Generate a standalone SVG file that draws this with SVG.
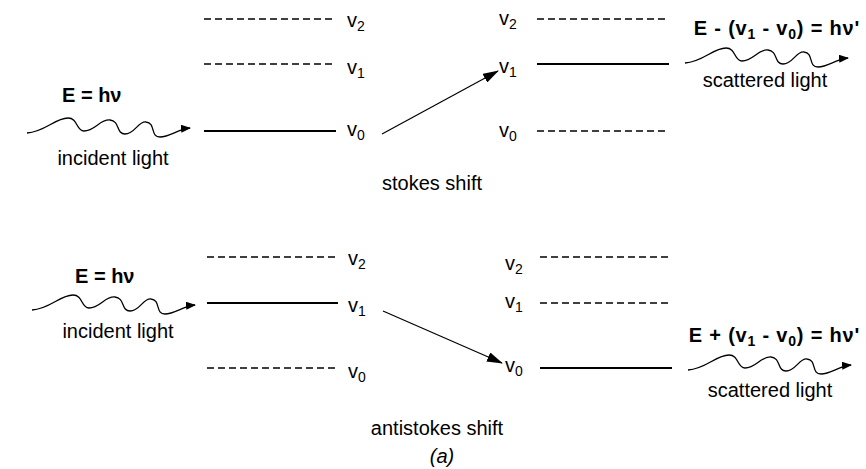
<svg xmlns="http://www.w3.org/2000/svg" width="866" height="469" viewBox="0 0 866 469">
<style>
text{font-family:"Liberation Sans",Arial,sans-serif;font-size:20px;fill:#000}
.b{font-weight:bold}
.f{letter-spacing:0.8px}
.sub{font-size:14px}
.solid{stroke:#000;stroke-width:2;fill:none}
.dash{stroke:#000;stroke-width:1.6;stroke-dasharray:7 4;fill:none}
.arr{stroke:#000;stroke-width:1.2;fill:none;marker-end:url(#ah)}
.wave{stroke:#000;stroke-width:1.3;fill:none;marker-end:url(#wh)}
.c{text-anchor:middle}
</style>
<defs>
<marker id="ah" viewBox="0 0 16 10" refX="15" refY="5" markerWidth="16" markerHeight="10" markerUnits="userSpaceOnUse" orient="auto"><path d="M0,0 L16,5 L0,10 Z" fill="#000"/></marker>
<marker id="wh" viewBox="0 0 10 8" refX="9" refY="4" markerWidth="10" markerHeight="8" markerUnits="userSpaceOnUse" orient="auto"><path d="M0,0 L10,4 L0,8 Z" fill="#000"/></marker>
</defs>

<g id="stokes-incident">
<text class="b" x="62" y="102">E = hν</text>
<path class="wave" transform="translate(27,133)" d="M0,0 C18,-1 28,-15 41,-15 C51,-15 49,-2 57,-2 C68,-2 73,-14 83,-13 C93,-12 89,1 98,1 C108,1 111,-12 119,-11 C129,-10 123,4 133,4 C143,4 151,-4 163,-5"/>
<text class="c" x="113" y="165">incident light</text>
</g>

<g id="stokes-initial-levels">
<line class="dash" x1="204" y1="19" x2="336" y2="19"/>
<text x="347" y="27">v<tspan class="sub" dy="4">2</tspan></text>
<line class="dash" x1="204" y1="64" x2="336" y2="64"/>
<text x="347" y="74">v<tspan class="sub" dy="4">1</tspan></text>
<line class="solid" x1="204" y1="131" x2="336" y2="131"/>
<text x="347" y="136">v<tspan class="sub" dy="4">0</tspan></text>
</g>

<g id="stokes-final-levels">
<text x="499" y="25">v<tspan class="sub" dy="4">2</tspan></text>
<line class="dash" x1="537" y1="19" x2="669" y2="19"/>
<text x="499" y="73">v<tspan class="sub" dy="4">1</tspan></text>
<line class="solid" x1="537" y1="64" x2="669" y2="64"/>
<text x="499" y="137">v<tspan class="sub" dy="4">0</tspan></text>
<line class="dash" x1="537" y1="131" x2="669" y2="131"/>
</g>

<g id="stokes-scattered">
<text class="b f" x="860" y="35" text-anchor="end">E - (v<tspan class="sub" dy="4">1</tspan><tspan dy="-4"> - v</tspan><tspan class="sub" dy="4">0</tspan><tspan dy="-4">) = hν'</tspan></text>
<path class="wave" transform="translate(685,63)" d="M0,0 C18,-1 28,-15 41,-15 C51,-15 49,-2 57,-2 C68,-2 73,-14 83,-13 C93,-12 89,1 98,1 C108,1 111,-12 119,-11 C129,-10 123,4 133,4 C143,4 151,-4 163,-5"/>
<text class="c" x="765" y="87">scattered light</text>
</g>

<g id="stokes-label">
<text class="c" x="432" y="190">stokes shift</text>
</g>

<g id="antistokes-incident">
<text class="b" x="75" y="283">E = hν</text>
<path class="wave" transform="translate(32,310)" d="M0,0 C18,-1 28,-15 41,-15 C51,-15 49,-2 57,-2 C68,-2 73,-14 83,-13 C93,-12 89,1 98,1 C108,1 111,-12 119,-11 C129,-10 123,4 133,4 C143,4 151,-4 163,-5"/>
<text class="c" x="118" y="338">incident light</text>
</g>

<g id="antistokes-initial-levels">
<line class="dash" x1="207" y1="257" x2="338" y2="257"/>
<text x="348" y="265">v<tspan class="sub" dy="4">2</tspan></text>
<line class="solid" x1="207" y1="303" x2="338" y2="303"/>
<text x="348" y="312">v<tspan class="sub" dy="4">1</tspan></text>
<line class="dash" x1="207" y1="368" x2="338" y2="368"/>
<text x="348" y="378">v<tspan class="sub" dy="4">0</tspan></text>
</g>

<g id="antistokes-final-levels">
<text x="505" y="270">v<tspan class="sub" dy="4">2</tspan></text>
<line class="dash" x1="540" y1="257" x2="672" y2="257"/>
<text x="505" y="308">v<tspan class="sub" dy="4">1</tspan></text>
<line class="dash" x1="540" y1="303" x2="672" y2="303"/>
<text x="505" y="372">v<tspan class="sub" dy="4">0</tspan></text>
<line class="solid" x1="540" y1="368" x2="672" y2="368"/>
</g>

<g id="antistokes-scattered">
<text class="b f" x="860" y="342" text-anchor="end">E + (v<tspan class="sub" dy="4">1</tspan><tspan dy="-4"> - v</tspan><tspan class="sub" dy="4">0</tspan><tspan dy="-4">) = hν'</tspan></text>
<path class="wave" transform="translate(688,370)" d="M0,0 C18,-1 28,-15 41,-15 C51,-15 49,-2 57,-2 C68,-2 73,-14 83,-13 C93,-12 89,1 98,1 C108,1 111,-12 119,-11 C129,-10 123,4 133,4 C143,4 151,-4 163,-5"/>
<text class="c" x="770" y="397">scattered light</text>
</g>

<g id="antistokes-label">
<text class="c" x="437" y="435">antistokes shift</text>
<text class="c" x="442" y="463" font-style="italic">(a)</text>
</g>

<g id="connectors">
<line class="arr" x1="382" y1="134" x2="498" y2="71"/>
<line class="arr" x1="383" y1="311" x2="502" y2="363"/>
</g>
</svg>
